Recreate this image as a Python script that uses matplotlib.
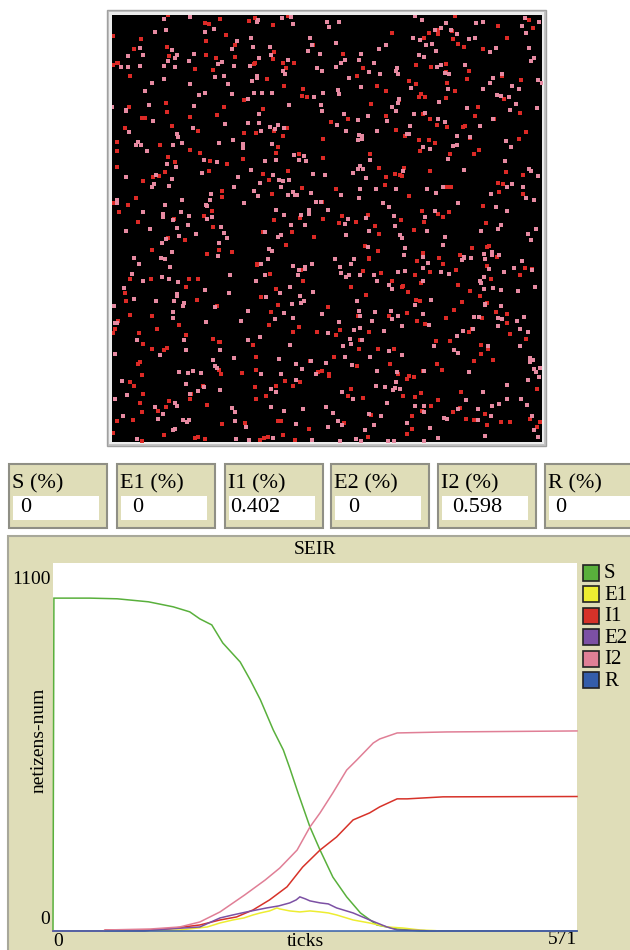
import numpy as np
import matplotlib
matplotlib.use("Agg")
import matplotlib.pyplot as plt
from matplotlib.patches import Rectangle

W, H = 630, 950

# monitor values (fractions)
monitor_names = ["S (%)", "E1 (%)", "I1 (%)", "E2 (%)", "I2 (%)", "R (%)"]
monitor_values = ["0", "0", "0.402", "0", "0.598", "0"]

# agents in the world view
n_i1 = 402
n_i2 = 598

# plot pens: (ticks, netizens-num)
S_t = [0, 1, 40, 70, 104, 131, 149, 160, 173, 185, 204, 215, 226, 240, 251, 258, 267, 280, 291, 305, 320, 335, 353, 375, 389, 400, 571]
S_v = [0, 995, 995, 993, 984, 969, 954, 933, 915, 861, 804, 750, 691, 601, 541, 487, 413, 311, 242, 161, 102, 54, 18, 6, 3, 0, 0]

E1_t = [0, 100, 106, 138, 168, 182, 196, 208, 218, 226, 236, 244, 247, 258, 269, 280, 291, 300, 309, 327, 345, 364, 381, 400, 417, 420, 571]
E1_v = [0, 0, 2, 3, 12, 24, 33, 39, 48, 54, 60, 69, 66, 60, 57, 60, 57, 54, 48, 33, 24, 12, 9, 3, 1, 0, 0]

I1_t = [0, 55, 57, 106, 130, 160, 182, 200, 218, 236, 255, 272, 291, 309, 327, 345, 356, 375, 386, 425, 571]
I1_v = [0, 0, 3, 3, 8, 18, 33, 42, 63, 93, 132, 191, 242, 281, 332, 353, 371, 395, 395, 401, 402]

E2_t = [0, 100, 108, 160, 182, 196, 211, 222, 233, 246, 258, 265, 269, 275, 280, 291, 300, 309, 327, 345, 364, 375, 390, 405, 410, 571]
E2_v = [0, 0, 3, 12, 39, 48, 57, 63, 69, 75, 84, 93, 102, 96, 90, 84, 81, 69, 54, 33, 12, 3, 2, 1, 0, 0]

I2_t = [0, 55, 57, 106, 138, 160, 182, 209, 231, 247, 266, 280, 291, 305, 320, 331, 349, 356, 375, 429, 571]
I2_v = [0, 0, 3, 6, 12, 27, 57, 108, 152, 188, 242, 311, 353, 413, 481, 511, 562, 574, 592, 595, 598]

R_t = [0, 571]
R_v = [0, 0]

pens = [
    ("S", S_t, S_v, "#59b03c"),
    ("E1", E1_t, E1_v, "#eded31"),
    ("I1", I1_t, I1_v, "#d73229"),
    ("E2", E2_t, E2_v, "#7c50a4"),
    ("I2", I2_t, I2_v, "#e07f96"),
    ("R", R_t, R_v, "#345da9"),
]

TAN = "#dfddb8"
FONT = "Liberation Serif"
FS = 14
FS_MON = 16


def rect(x0, y0, x1, y1):
    return [x0 / W, 1 - y1 / H, (x1 - x0) / W, (y1 - y0) / H]


fig = plt.figure(figsize=(6.3, 9.5), dpi=100)
fig.patch.set_facecolor("white")

# background layer in pixel coordinates
bg = fig.add_axes([0, 0, 1, 1], zorder=0)
bg.set_xlim(0, W)
bg.set_ylim(H, 0)
bg.axis("off")

# world view frame
bg.add_patch(Rectangle((107, 10), 439, 436, facecolor="#c4c4c4", edgecolor="#a0a0a0", lw=1))
bg.add_patch(Rectangle((109, 12), 435, 432, facecolor="#ececec", edgecolor="none"))

# monitors
mon_x = [9, 117, 225, 331, 438, 545]
val_dx = [11, 15, 5, 17, 14, 10]
for name, val, x0, dx in zip(monitor_names, monitor_values, mon_x, val_dx):
    bg.add_patch(Rectangle((x0, 464), 98, 64, facecolor=TAN, edgecolor="#8f8f85", lw=1.5))
    bg.add_patch(Rectangle((x0 + 4, 496), 86, 24, facecolor="white", edgecolor="none"))
    bg.text(x0 + 3, 484, name, fontsize=FS_MON, family=FONT, va="center", ha="left")
    bg.text(x0 + dx, 508, val, fontsize=FS_MON, family=FONT, va="center", ha="left")

# plot widget
bg.add_patch(Rectangle((8, 536), 640, 430, facecolor=TAN, edgecolor="#a8a89a", lw=1.5))
bg.text(315, 549, "SEIR", fontsize=FS, family=FONT, ha="center", va="center")
bg.text(51, 579, "1100", fontsize=FS, family=FONT, ha="right", va="center")
bg.text(50, 920, "0", fontsize=FS, family=FONT, ha="right", va="center")
bg.text(53, 942, "0", fontsize=FS, family=FONT, ha="left", va="center")
bg.text(577, 940, "571", fontsize=FS, family=FONT, ha="right", va="center")
bg.text(305, 941, "ticks", fontsize=FS, family=FONT, ha="center", va="center")
bg.text(39, 740, "netizens-num", fontsize=FS, family=FONT, ha="center", va="center", rotation=90)

# legend
for i, (name, t, v, c) in enumerate(pens):
    yc = 573 + i * 21.4
    bg.add_patch(Rectangle((583, yc - 8), 16, 16, facecolor=c, edgecolor="#222222", lw=1.2))
    bg.text(604, yc + 1, name, fontsize=15, family=FONT, ha="left", va="center")

# world view: agents scattered with a quadratic Weyl sequence
world = fig.add_axes(rect(112, 15, 542, 442), zorder=1)
world.set_facecolor("black")
world.set_xlim(0, 1)
world.set_ylim(0, 1)
world.set_xticks([])
world.set_yticks([])
for s in world.spines.values():
    s.set_visible(False)
n = np.arange(1, n_i1 + n_i2 + 1, dtype=float)
ax_pos = (n * n * np.sqrt(2) + n * np.sqrt(5)) % 1.0
ay_pos = (n * n * np.sqrt(3) + n * np.sqrt(7)) % 1.0
world.scatter(ax_pos[:n_i1], ay_pos[:n_i1], s=9, marker="s", c="#dc2a26", linewidths=0)
world.scatter(ax_pos[n_i1:], ay_pos[n_i1:], s=9, marker="s", c="#e68aa2", linewidths=0)

# SEIR plot
ax = fig.add_axes(rect(53, 563, 577, 931), zorder=1)
ax.set_facecolor("white")
ax.set_xlim(0, 571)
ax.set_ylim(0, 1100)
ax.set_xticks([])
ax.set_yticks([])
for s in ax.spines.values():
    s.set_visible(False)
for name, t, v, c in pens:
    ax.plot(t, v, color=c, lw=1.1, clip_on=False, solid_joinstyle="miter")

fig.savefig("out.png", dpi=100)
